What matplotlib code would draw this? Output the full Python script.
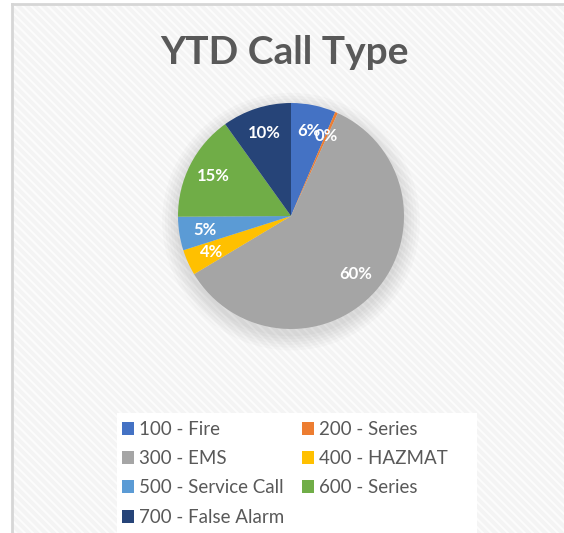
import matplotlib
matplotlib.use('Agg')
import matplotlib.pyplot as plt
from matplotlib.patches import Rectangle, Circle, Patch

# data
labels = ['100 - Fire', '200 - Series', '300 - EMS', '400 - HAZMAT',
          '500 - Service Call', '600 - Series', '700 - False Alarm']
shares = [6.4, 0.4, 59.6, 3.7, 4.8, 15.2, 9.9]
colors = ['#4472C4', '#ED7D31', '#A5A5A5', '#FFC000',
          '#5B9BD5', '#70AD47', '#264478']

plt.rcParams['font.family'] = ['Lato', 'DejaVu Sans']
plt.rcParams['hatch.linewidth'] = 1.5

W, H = 564, 533
fig = plt.figure(figsize=(W / 100, H / 100), dpi=100)
fig.patch.set_facecolor('white')

# chart area with striped background and grey frame
x0 = 12 / W
top = 1 - 4 / H
bg = Rectangle((x0, 0), 1 - x0, top, transform=fig.transFigure,
               facecolor='#f4f4f4', edgecolor='#fcfcfc', hatch='\\\\\\\\',
               linewidth=0, zorder=-5)
fig.patches.append(bg)
fig.add_artist(plt.Line2D([x0, 1], [top, top], transform=fig.transFigure,
                          color='#d6d6d6', lw=2, zorder=-4))
fig.add_artist(plt.Line2D([x0, x0], [0, top], transform=fig.transFigure,
                          color='#d6d6d6', lw=2, zorder=-4))
# white panel behind the legend
fig.patches.append(Rectangle((117 / W, 0), 360 / W, 1 - 413 / H,
                             transform=fig.transFigure, facecolor='white',
                             edgecolor='none', zorder=-3))

fig.text(285 / W, 1 - 53 / H, 'YTD Call Type', ha='center', va='center',
         fontsize=28, fontweight='bold', color='#595959')

# pie
cx, cy, r = 291, 216, 113
pad = 1.25
ax = fig.add_axes([(cx - r * pad) / W, 1 - (cy + r * pad) / H,
                   2 * r * pad / W, 2 * r * pad / H])
# soft shadow under the pie
for k in range(6):
    ax.add_patch(Circle((0, -0.05), 0.99 + 0.025 * (k + 1), color='black',
                        alpha=0.018, lw=0, zorder=0))
wedges, texts, autotexts = ax.pie(
    shares, colors=colors, startangle=90, counterclock=False,
    autopct='%.0f%%', pctdistance=0.77, radius=1.0,
    wedgeprops=dict(linewidth=0),
    textprops=dict(color='white', fontsize=12, fontweight='bold'))
ax.set_xlim(-pad, pad)
ax.set_ylim(-pad, pad)
ax.axis('off')

# legend, row-wise order in two columns
order = [0, 2, 4, 6, 1, 3, 5]
handles = [Patch(facecolor=colors[i], edgecolor='none') for i in order]
leg = fig.legend(handles, [labels[i] for i in order], ncol=2,
                 loc='upper left', bbox_to_anchor=(116 / W, 1 - 415 / H),
                 frameon=False, fontsize=13.5,
                 handlelength=0.65, handleheight=0.7, handletextpad=0.3,
                 columnspacing=0.9, labelspacing=0.66, borderpad=0.3,
                 borderaxespad=0)
for t in leg.get_texts():
    t.set_color('#595959')

fig.savefig('out.png', dpi=100)
